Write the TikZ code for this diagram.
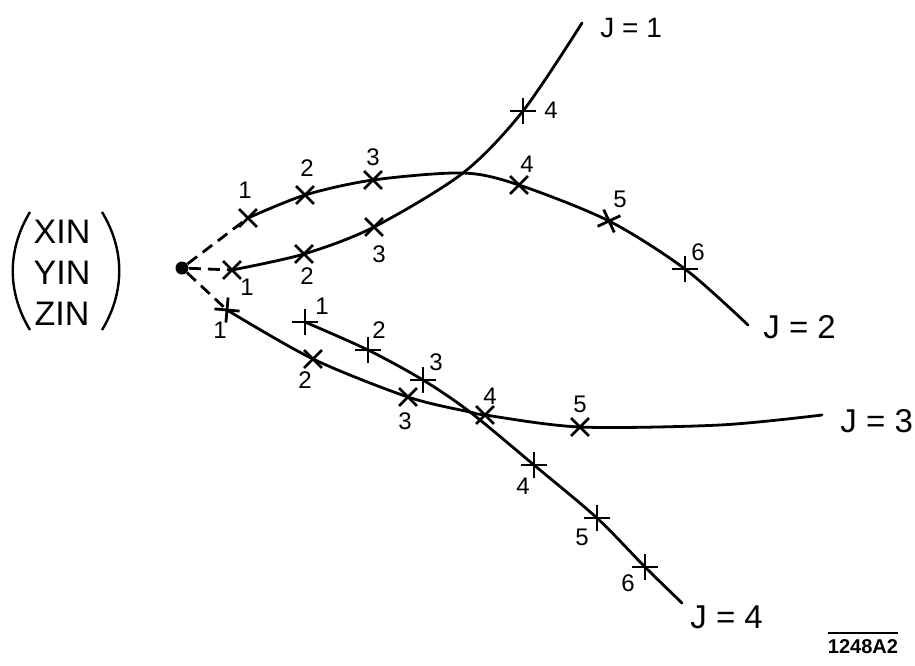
\documentclass[tikz,border=0pt]{standalone}
\usepackage{fontspec}
\setmainfont{Liberation Sans}
\usetikzlibrary{shapes.misc}

\begin{document}
\begin{tikzpicture}[x=0.5pt,y=-0.5pt,
  curve/.style={line width=1.4pt,line cap=round},
  lead/.style={line width=1.4pt,dash pattern=on 6pt off 3.5pt},
  mk/.style={cross out,draw,line width=1.4pt,minimum size=7.5pt,inner sep=0pt},
  num/.style={font=\fontsize{12}{14}\selectfont,inner sep=0pt},
  jlab/.style={font=\fontsize{16.5}{18}\selectfont,inner sep=0pt,anchor=west}]
  \useasboundingbox (0,0) rectangle (915,665);

  \node[align=center,inner sep=0pt,font=\fontsize{17}{20.5}\selectfont] (input) at (62,273) {XIN\\YIN\\ZIN};
  \draw[line width=1.2pt] (30,212) .. controls (7,250) and (7,292) .. (30,330);
  \draw[line width=1.2pt] (102,212) .. controls (125,250) and (125,292) .. (102,330);
  \node[circle,fill,inner sep=0pt,minimum size=6.5pt] (dot) at (182,268) {};

  \node[mk] (j1m1) at (232,270) {};
  \node[mk] (j1m2) at (304,254) {};
  \node[mk] (j1m3) at (374,227) {};
  \node[mk,rotate=45] (j1m4) at (523,111) {};
  \coordinate (j1e) at (582,23);

  \node[mk] (j2m1) at (248,218) {};
  \node[mk] (j2m2) at (305,195) {};
  \node[mk] (j2m3) at (373,180) {};
  \node[mk] (j2m4) at (519,185) {};
  \node[mk,rotate=-20] (j2m5) at (609,221) {};
  \node[mk,rotate=45] (j2m6) at (685,269) {};
  \coordinate (j2e) at (748,325);
  \coordinate (x12) at (463,173);

  \node[mk,rotate=40] (j3m1) at (227,310) {};
  \node[mk] (j3m2) at (313,359) {};
  \node[mk] (j3m3) at (408,397) {};
  \node[mk] (j3m4) at (485,415) {};
  \node[mk] (j3m5) at (580,427) {};
  \coordinate (j3f) at (720,425);
  \coordinate (j3e) at (822,415);
  \coordinate (x34) at (470,412);

  \node[mk,rotate=45] (j4m1) at (305,322) {};
  \node[mk,rotate=45] (j4m2) at (368,350) {};
  \node[mk,rotate=45] (j4m3) at (423,380) {};
  \node[mk,rotate=45] (j4m4) at (534,465) {};
  \node[mk,rotate=45] (j4m5) at (597,518) {};
  \node[mk,rotate=45] (j4m6) at (645,567) {};
  \coordinate (j4e) at (682,603);

  \draw[lead] (dot) -- (j1m1.center);
  \draw[lead] (dot) -- (j2m1.center);
  \draw[lead] (dot) -- (j3m1.center);

  \draw[curve] plot[smooth] coordinates {(j1m1.center) (j1m2.center) (j1m3.center) (x12) (j1m4.center) (j1e)};
  \draw[curve] plot[smooth] coordinates {(j2m1.center) (j2m2.center) (j2m3.center) (x12) (j2m4.center) (j2m5.center) (j2m6.center) (j2e)};
  \draw[curve] plot[smooth] coordinates {(j3m1.center) (j3m2.center) (j3m3.center) (x34) (j3m4.center) (j3m5.center) (j3f) (j3e)};
  \draw[curve] plot[smooth] coordinates {(j4m1.center) (j4m2.center) (j4m3.center) (x34) (j4m4.center) (j4m5.center) (j4m6.center) (j4e)};

  \node[num] (l11) at (247,287) {1};
  \node[num] (l12) at (307,276) {2};
  \node[num] (l13) at (379,254) {3};
  \node[num] (l14) at (551,110) {4};

  \node[num] (l21) at (245,190) {1};
  \node[num] (l22) at (307,168) {2};
  \node[num] (l23) at (373,157) {3};
  \node[num] (l24) at (527,164) {4};
  \node[num] (l25) at (620,199) {5};
  \node[num] (l26) at (698,252) {6};

  \node[num] (l31) at (220,330) {1};
  \node[num] (l32) at (305,380) {2};
  \node[num] (l33) at (405,421) {3};
  \node[num] (l34) at (490,396) {4};
  \node[num] (l35) at (580,404) {5};

  \node[num] (l41) at (322,306) {1};
  \node[num] (l42) at (379,330) {2};
  \node[num] (l43) at (436,362) {3};
  \node[num] (l44) at (523,486) {4};
  \node[num] (l45) at (582,537) {5};
  \node[num] (l46) at (628,583) {6};

  \node[jlab,font=\fontsize{14}{16}\selectfont] (j1) at (600,28) {J = 1};
  \node[jlab] (j2) at (763,327) {J = 2};
  \node[jlab] (j3) at (840,421) {J = 3};
  \node[jlab] (j4) at (690,617) {J = 4};

  \node[inner sep=0pt,font=\bfseries\fontsize{10}{12}\selectfont] (code) at (863,647) {1248A2};
  \draw[line width=1pt] ([yshift=3.5pt]code.north west) -- ([yshift=3.5pt]code.north east);
\end{tikzpicture}
\end{document}
